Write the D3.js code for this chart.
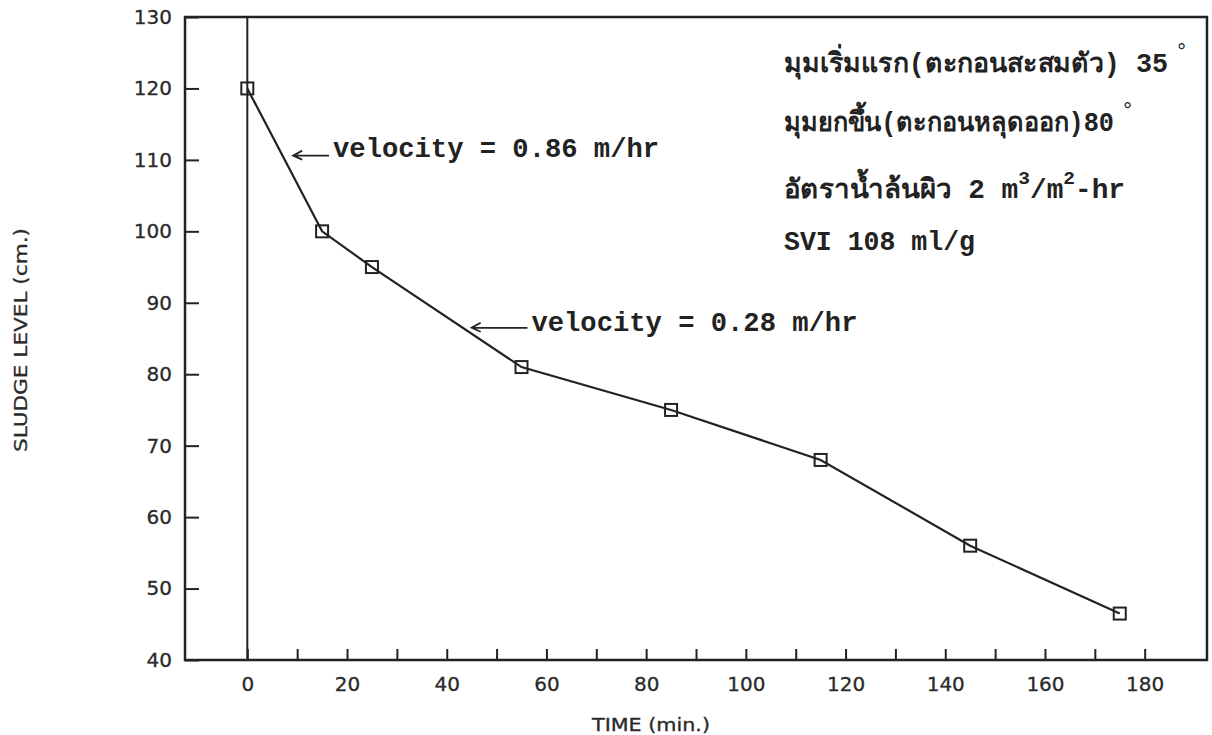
<!DOCTYPE html>
<html>
   <head>
      <meta charset="utf-8" />
      <title>Sludge level</title>
      <script src="https://cdn.jsdelivr.net/npm/d3@7/dist/d3.min.js"></script>
   </head>
   <style>
      body {
         margin: 0px;
         overflow: hidden;
         background: #fff;
      }

      .tick text {
         font-family: "DejaVu Sans", sans-serif;
         font-size: 20px;
         fill: #2a2a2a;
         stroke: #2a2a2a;
         stroke-width: 0.3;
      }

      .tick line {
         stroke: #222;
         stroke-width: 2;
      }

      .note {
         font-family: "Liberation Mono", "DejaVu Sans Mono", monospace;
         font-size: 27px;
         font-weight: bold;
         fill: #222;
      }
   </style>
   <body>
      <svg width="1212" height="735"></svg>
      <script>
         // data
         const times = [0, 15, 25, 55, 85, 115, 145, 175];
         const levels = [120, 100, 95, 81, 75, 68, 56, 46.5];

         const xTicks = d3.range(0, 181, 10);
         const yTicks = d3.range(40, 131, 10);

         const infoLines = [
            "มุมเริ่มแรก(ตะกอนสะสมตัว) 35",
            "มุมยกขึ้น(ตะกอนหลุดออก)80",
            "อัตราน้ำล้นผิว 2 m",
            "SVI 108 ml/g"
         ];
         const velocityNotes = ["velocity = 0.86 m/hr", "velocity = 0.28 m/hr"];

         const svg = d3.select("svg");

         const x = d3.scaleLinear().domain([-12.5, 192.5]).range([185, 1207]);
         const y = d3.scaleLinear().domain([40, 130]).range([660, 17]);

         // frame
         svg.append("rect")
            .attr("x", x(-12.5))
            .attr("y", y(130))
            .attr("width", x(192.5) - x(-12.5))
            .attr("height", y(40) - y(130))
            .attr("fill", "none")
            .attr("stroke", "#222")
            .attr("stroke-width", 2.5);

         // vertical line at time zero
         svg.append("line")
            .attr("x1", x(0)).attr("x2", x(0))
            .attr("y1", y(130)).attr("y2", y(40))
            .attr("stroke", "#222")
            .attr("stroke-width", 2);

         const xAxis = svg.append("g")
            .attr("transform", `translate(0,${y(40)})`)
            .call(d3.axisBottom(x)
               .tickValues(xTicks)
               .tickSizeInner(-11)
               .tickSizeOuter(0)
               .tickPadding(17)
               .tickFormat((d) => (d % 20 === 0 ? d : "")));
         xAxis.select(".domain").remove();

         const yAxis = svg.append("g")
            .attr("transform", `translate(${x(-12.5)},0)`)
            .call(d3.axisLeft(y)
               .tickValues(yTicks)
               .tickSizeInner(-14)
               .tickSizeOuter(0)
               .tickPadding(13));
         yAxis.select(".domain").remove();

         // axis titles
         svg.append("text")
            .attr("x", 651)
            .attr("y", 731)
            .attr("text-anchor", "middle")
            .attr("textLength", 118)
            .attr("lengthAdjust", "spacingAndGlyphs")
            .style("font-family", "'DejaVu Sans', sans-serif")
            .style("font-size", "17px")
            .style("fill", "#2a2a2a")
            .style("stroke", "#2a2a2a")
            .style("stroke-width", 0.3)
            .text("TIME (min.)");

         svg.append("text")
            .attr("transform", "translate(27,340) rotate(-90)")
            .attr("text-anchor", "middle")
            .attr("textLength", 224)
            .attr("lengthAdjust", "spacingAndGlyphs")
            .style("font-family", "'DejaVu Sans', sans-serif")
            .style("font-size", "18px")
            .style("fill", "#2a2a2a")
            .style("stroke", "#2a2a2a")
            .style("stroke-width", 0.3)
            .text("SLUDGE LEVEL (cm.)");

         // data line and square markers
         const points = times.map((t, i) => [t, levels[i]]);

         svg.append("path")
            .datum(points)
            .attr("fill", "none")
            .attr("stroke", "#222")
            .attr("stroke-width", 2.2)
            .attr("d", d3.line().x((d) => x(d[0])).y((d) => y(d[1])));

         svg.selectAll(".marker")
            .data(points)
            .enter()
            .append("rect")
            .attr("class", "marker")
            .attr("x", (d) => x(d[0]) - 6)
            .attr("y", (d) => y(d[1]) - 6)
            .attr("width", 12)
            .attr("height", 12)
            .attr("fill", "none")
            .attr("stroke", "#222")
            .attr("stroke-width", 2);

         // velocity notes with little arrows
         const noteAt = [[17.2, 110.4], [57, 86]];
         const arrowFrom = [[9.2, 110.6], [45, 86.5]];

         velocityNotes.forEach((t, i) => {
            const tx = x(noteAt[i][0]);
            const ty = y(noteAt[i][1]);
            const ax = x(arrowFrom[i][0]);
            const ay = y(arrowFrom[i][1]);
            svg.append("path")
               .attr("d", `M${tx - 4},${ay}L${ax},${ay}M${ax + 9},${ay - 5}L${ax},${ay}L${ax + 9},${ay + 4}`)
               .attr("fill", "none")
               .attr("stroke", "#222")
               .attr("stroke-width", 1.8);
            svg.append("text")
               .attr("class", "note")
               .attr("x", tx)
               .attr("y", ty)
               .attr("textLength", 326)
               .attr("lengthAdjust", "spacingAndGlyphs")
               .text(t);
         });

         // info block, upper right
         const infoX = 784;
         const infoY = [72, 131, 198, 250];
         const infoWidth = [384, 330, 341, 191];

         infoLines.forEach((t, i) => {
            const line = svg.append("text")
               .attr("class", "note")
               .attr("x", infoX)
               .attr("y", infoY[i])
               .attr("textLength", infoWidth[i])
               .attr("lengthAdjust", "spacingAndGlyphs");
            line.append("tspan").text(t);
            if (i === 0 || i === 1) {
               // degree sign as its own raised glyph
               svg.append("text")
                  .attr("class", "note")
                  .attr("x", infoX + infoWidth[i] + 7)
                  .attr("y", infoY[i] - 14)
                  .style("font-weight", "normal")
                  .style("font-size", "22px")
                  .text("°");
            }
            if (i === 2) {
               line.append("tspan").attr("dy", -14).style("font-size", "19px").text("3");
               line.append("tspan").attr("dy", 14).text("/m");
               line.append("tspan").attr("dy", -14).style("font-size", "19px").text("2");
               line.append("tspan").attr("dy", 14).text("-hr");
            }
         });
      </script>
   </body>
</html>
